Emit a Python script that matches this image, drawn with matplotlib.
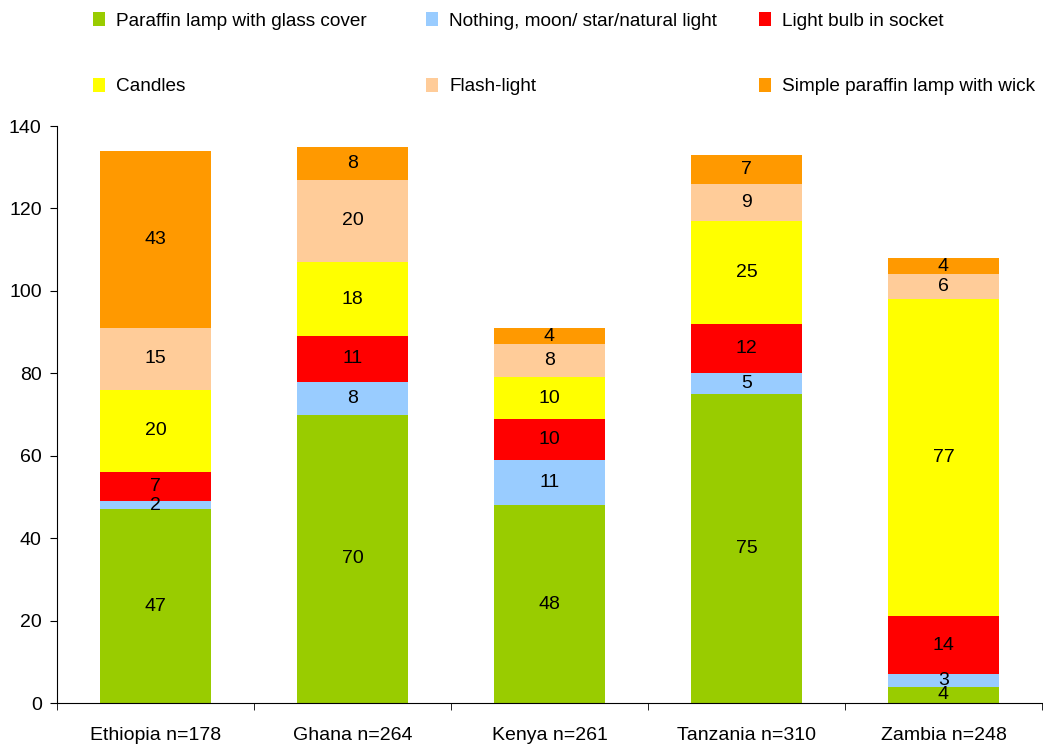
import matplotlib
matplotlib.use("Agg")
import matplotlib.pyplot as plt
import numpy as np

plt.rcParams['font.family'] = ['Liberation Sans', 'DejaVu Sans']

categories = ["Ethiopia n=178", "Ghana n=264", "Kenya n=261", "Tanzania n=310", "Zambia n=248"]
series_names = ["Paraffin lamp with glass cover", "Nothing, moon/ star/natural light",
                "Light bulb in socket", "Candles", "Flash-light", "Simple paraffin lamp with wick"]
paraffin_glass = [47, 70, 48, 75, 4]
nothing_natural = [2, 8, 11, 5, 3]
light_bulb = [7, 11, 10, 12, 14]
candles = [20, 18, 10, 25, 77]
flashlight = [15, 20, 8, 9, 6]
simple_paraffin = [43, 8, 4, 7, 4]
series = [paraffin_glass, nothing_natural, light_bulb, candles, flashlight, simple_paraffin]
colors = ["#99CC00", "#99CCFF", "#FF0000", "#FFFF00", "#FFCC99", "#FF9900"]

FS = 14

fig = plt.figure(figsize=(10.43, 7.45), dpi=100)
ax = fig.add_axes([57/1043, 42/745, (1042-57)/1043, (703-126)/745])

x = np.arange(len(categories))
bottom = np.zeros(len(categories))
handles = []
for vals, col, name in zip(series, colors, series_names):
    v = np.array(vals, dtype=float)
    b = ax.bar(x, v, 0.56, bottom=bottom, color=col, label=name, linewidth=0)
    handles.append(b)
    for xi, vi, bi in zip(x, v, bottom):
        ax.text(xi, bi + vi/2, f"{int(vi)}", ha='center', va='center', fontsize=FS, color='black')
    bottom += v

ax.set_xlim(-0.5, len(categories) - 0.5)
ax.set_ylim(0, 140)
ax.set_yticks(np.arange(0, 141, 20))
ax.tick_params(axis='y', labelsize=FS, length=5, direction='out', pad=6)
ax.set_xticks(x)
ax.set_xticklabels(categories, fontsize=FS)
ax.tick_params(axis='x', length=0, pad=17)
ax.set_xticks(np.arange(-0.5, len(categories)), minor=True)
ax.tick_params(axis='x', which='minor', length=5, direction='out')
for s in ['top', 'right']:
    ax.spines[s].set_visible(False)

col_x = [93, 426, 759]
for ci in range(3):
    hs = [handles[ci], handles[ci + 3]]
    ls = [series_names[ci], series_names[ci + 3]]
    fig.legend(handles=hs, labels=ls, loc='upper left',
               bbox_to_anchor=(col_x[ci]/1043, 1 - 12/745), ncol=1, frameon=False,
               fontsize=13.7, handlelength=0.63, handleheight=0.77, handletextpad=0.6,
               labelspacing=2.52, borderpad=0, borderaxespad=0)

fig.savefig("out.png", dpi=100)
